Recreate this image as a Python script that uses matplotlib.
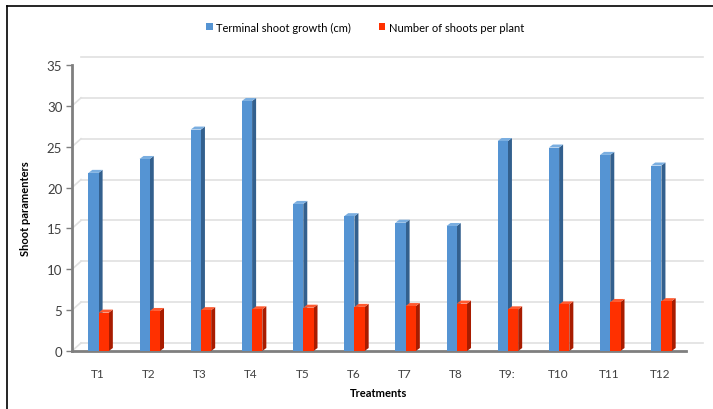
import numpy as np
import matplotlib.pyplot as plt
from matplotlib.patches import Polygon
from matplotlib.lines import Line2D
from matplotlib.transforms import ScaledTranslation

plt.rcParams['font.family'] = ['Lato', 'DejaVu Sans']

treatments = ['T1', 'T2', 'T3', 'T4', 'T5', 'T6', 'T7', 'T8', 'T9:', 'T10', 'T11', 'T12']
shoot_growth = [21.8, 23.5, 27.1, 30.6, 18.0, 16.5, 15.7, 15.3, 25.7, 24.9, 24.0, 22.7]
shoots_per_plant = [4.7, 4.9, 5.0, 5.1, 5.3, 5.4, 5.5, 5.8, 5.1, 5.7, 6.0, 6.1]
yticks = [0, 5, 10, 15, 20, 25, 30, 35]

blue, blue_side, blue_top = '#5594d3', '#33608e', '#7aaee0'
red, red_side, red_top = '#ff3000', '#a81c00', '#ff5a30'

fig = plt.figure(figsize=(7.13, 4.10), dpi=100)
ax = fig.add_axes([72 / 713, 58 / 410, 614 / 713, 286 / 410])
ax.set_xlim(-0.5, 11.5)
ax.set_ylim(0, 35)

# back wall grid, shifted up/right to fake the 3D depth
back = ScaledTranslation(9 / 100, 8 / 100, fig.dpi_scale_trans)
for v in yticks:
    ax.plot([-0.5, 11.66], [v, v], color='#e0e0e0', lw=1.2,
            transform=ax.transData + back, clip_on=False, zorder=0)
    ax.plot([72 / 713, 81 / 713], [(58 + v / 35 * 286) / 410, (66 + v / 35 * 286) / 410],
            color='#e0e0e0', lw=1.2, transform=fig.transFigure, zorder=0)

x = np.arange(len(treatments))
w = 0.2
b1 = ax.bar(x - 0.08, shoot_growth, w, color=blue, zorder=3, label='Terminal shoot growth (cm)')
b2 = ax.bar(x + 0.12, shoots_per_plant, w, color=red, zorder=4, label='Number of shoots per plant')

# side and top faces of each bar
dx = 4 * 12 / 614
dy = 3 * 35 / 286
for bars, side_c, top_c, z in [(b1, blue_side, blue_top, 2.9), (b2, red_side, red_top, 3.9)]:
    for p in bars:
        x0, h, bw = p.get_x(), p.get_height(), p.get_width()
        x1 = x0 + bw
        ax.add_patch(Polygon([(x1, 0), (x1 + dx, dy), (x1 + dx, h + dy), (x1, h)],
                             closed=True, color=side_c, zorder=z, lw=0))
        ax.add_patch(Polygon([(x0, h), (x0 + dx, h + dy), (x1 + dx, h + dy), (x1, h)],
                             closed=True, color=top_c, zorder=z, lw=0))

for s in ['top', 'right']:
    ax.spines[s].set_visible(False)
ax.spines['left'].set_color('#7f7f7f')
ax.spines['left'].set_linewidth(2)
ax.spines['bottom'].set_color('#7f7f7f')
ax.spines['bottom'].set_linewidth(2)

ax.set_yticks(yticks)
ax.set_xticks(x)
ax.set_xticklabels(treatments)
ax.tick_params(axis='y', length=4, width=1, color='#7f7f7f', labelsize=9.5, labelcolor='#404040', pad=3)
ax.tick_params(axis='x', length=0, labelsize=8.5, labelcolor='#404040', pad=12)
ax.set_ylabel('Shoot paramenters', fontsize=8, fontweight='bold')
ax.yaxis.set_label_coords((31 - 72) / 614, 0.5)
ax.set_xlabel('Treatments', fontsize=8, fontweight='bold')
ax.xaxis.set_label_coords(0.5, -(388 - 352) / 286)

ax.legend(loc='center', bbox_to_anchor=(365 / 713, 1 - 28 / 410), bbox_transform=fig.transFigure,
          ncol=2, frameon=False, fontsize=8, handlelength=0.6, handleheight=0.6,
          handletextpad=0.3, columnspacing=2.5)

# outer frame (left and top edges)
fig.add_artist(Line2D([7 / 713, 7 / 713], [0, 403 / 410], color='black', lw=1.2, transform=fig.transFigure))
fig.add_artist(Line2D([7 / 713, 1], [403 / 410, 403 / 410], color='black', lw=1.2, transform=fig.transFigure))

fig.savefig('out.png', dpi=100)
